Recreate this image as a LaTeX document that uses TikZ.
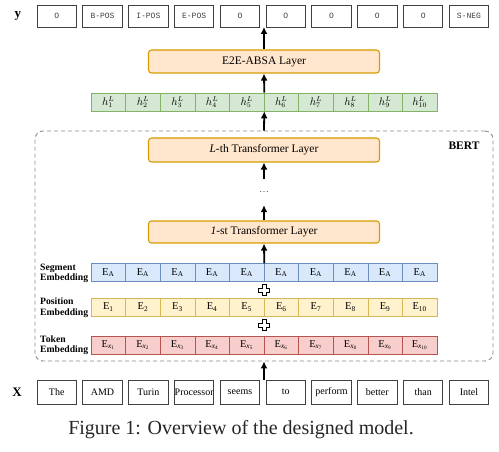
\documentclass[tikz,border=0pt]{standalone}
\usepackage{fontspec}
\setmainfont{Liberation Serif}
\newfontfamily\monofont{Liberation Mono}
\usetikzlibrary{arrows.meta}
\definecolor{orfill}{HTML}{FFE6CC}
\definecolor{ordraw}{HTML}{D79B00}
\definecolor{gnfill}{HTML}{D5E8D4}
\definecolor{gndraw}{HTML}{82B366}
\definecolor{blfill}{HTML}{DAE8FC}
\definecolor{bldraw}{HTML}{6C8EBF}
\definecolor{yefill}{HTML}{FFF2CC}
\definecolor{yedraw}{HTML}{D6B656}
\definecolor{rdfill}{HTML}{F8CECC}
\definecolor{rddraw}{HTML}{B85450}
\begin{document}
\begin{tikzpicture}[x=1pt,y=-1pt,
  arr/.style={-{Latex[length=7pt,width=7pt]}, line width=1.8pt},
  outbox/.style={draw=black!75, line width=0.9pt, minimum width=39.5pt, minimum height=22pt, inner sep=0pt, font=\monofont\fontsize{8}{9}\selectfont, text=black!75},
  inbox/.style={draw=black!75, line width=0.9pt, minimum width=39.5pt, minimum height=24pt, inner sep=0pt, font=\fontsize{10}{11}\selectfont},
  layerbox/.style={draw=ordraw, fill=orfill, line width=1.1pt, rounded corners=3pt, minimum width=231pt, inner sep=0pt, font=\fontsize{11.5}{13}\selectfont},
  cell/.style={line width=0.6pt, minimum width=34.6pt, inner sep=0pt, font=\fontsize{10.5}{11}\selectfont},
  hcell/.style={cell, draw=gndraw, fill=gnfill, minimum height=18pt},
  scell/.style={cell, draw=bldraw, fill=blfill, minimum height=17.5pt},
  pcell/.style={cell, draw=yedraw, fill=yefill, minimum height=18pt},
  tcell/.style={cell, draw=rddraw, fill=rdfill, minimum height=18pt},
  emblab/.style={anchor=west, align=left, inner sep=0pt, font=\bfseries\fontsize{9.7}{10.5}\selectfont},
  plusshape/.style={draw=black, fill=white, line width=0.6pt}
]
\useasboundingbox (0,0) rectangle (499,452);

% BERT container
\node (bert) [draw=black!45, dashed, dash pattern=on 4pt off 3pt, line width=0.9pt, rounded corners=8pt, minimum width=458pt, minimum height=230pt, inner sep=0pt] at (264,246) {};
\node (bertlab) [font=\bfseries\fontsize{11.5}{13}\selectfont, inner sep=0pt] at (464,146) {BERT};

% output row
\node (ylab) [font=\bfseries\fontsize{13}{14}\selectfont, inner sep=0pt] at (18,16) {y};
\foreach \t [count=\i from 0] in {O,B-POS,I-POS,E-POS,O,O,O,O,O,S-NEG}
  \node (y\i) [outbox] at ({56.75+45.8*\i},16) {\t};

% input row
\node (xlab) [font=\bfseries\fontsize{13}{14}\selectfont, inner sep=0pt] at (17,392) {X};
\foreach \t [count=\i from 0] in {The,AMD,Turin,Processor,seems,to,perform,better,than,Intel}
  \node (x\i) [inbox] at ({56.75+45.8*\i},392) {\t};

% layers
\node (e2e) [layerbox, minimum height=23pt] at (264,61.5) {E2E-ABSA Layer};
\node (lth) [layerbox, minimum height=24pt] at (264,150) {\textit{L}-th Transformer Layer};
\node (fst) [layerbox, minimum height=22pt] at (264,232) {\textit{1}-st Transformer Layer};
\node (dots) [inner sep=0pt, minimum height=26pt, font=\fontsize{10}{11}\selectfont, text=black!70] at (264,192) {\dots};

% hidden row
\foreach \i in {1,...,10}
  \node (h\i) [hcell] at ({91+17.3+34.6*(\i-1)},102) {$h^{L}_{\i}$};

% embeddings
\foreach \i in {1,...,10} {
  \node (s\i) [scell] at ({91+17.3+34.6*(\i-1)},272.5) {E\textsubscript{A}};
  \node (p\i) [pcell] at ({91+17.3+34.6*(\i-1)},307) {E\textsubscript{\i}};
  \node (t\i) [tcell] at ({91+17.3+34.6*(\i-1)},345) {E\textsubscript{\textit{x}\textsubscript{\i}}};
}
\node (seglab) [emblab] at (40,273.5) {Segment\\Embedding};
\node (poslab) [emblab] at (40,307.5) {Position\\Embedding};
\node (toklab) [emblab] at (40,345) {Token\\Embedding};

% plus signs
\foreach \yy in {290,325} {
  \draw[plusshape, shift={(264,\yy)}] (-1.9,-5.6) -- (1.9,-5.6) -- (1.9,-1.9) -- (5.6,-1.9) -- (5.6,1.9) -- (1.9,1.9) -- (1.9,5.6) -- (-1.9,5.6) -- (-1.9,1.9) -- (-5.6,1.9) -- (-5.6,-1.9) -- (-1.9,-1.9) -- cycle;
}

% caption
\node (caption) [inner sep=0pt, font=\fontsize{20}{22}\selectfont, text=black!85] at (241,430) {Figure 1: Overview of the designed model.};

% connectors
\coordinate (ytop) at (264,27);
\coordinate (xbot) at (264,380);
\draw[arr] (e2e.north) -- (ytop);
\draw[arr] (h5.north east) -- (e2e.south);
\draw[arr] (bert.north) -- (h5.south east);
\draw[arr] (dots.north) -- (lth.south);
\draw[arr] (fst.north) -- (dots.south);
\draw[arr] (s5.north east) -- (fst.south);
\draw[arr] (xbot) -- (bert.south);
\end{tikzpicture}
\end{document}
